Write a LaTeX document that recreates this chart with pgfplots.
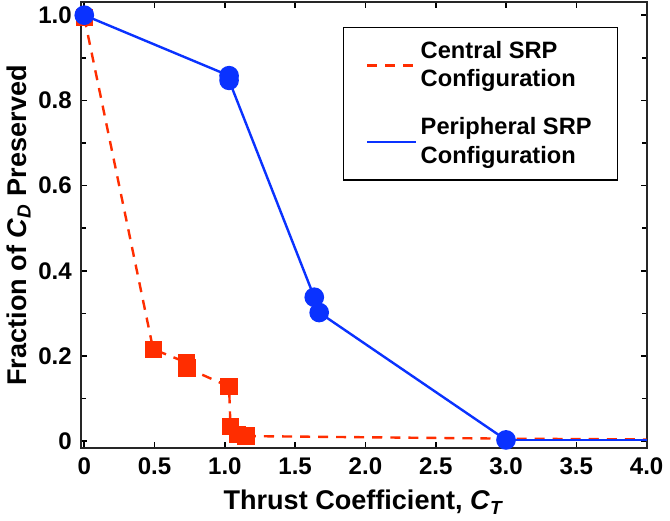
\documentclass[border=0pt]{standalone}
\usepackage{fontspec}
\setmainfont{Liberation Sans}
\usepackage{pgfplots}
\pgfplotsset{compat=1.18}
\definecolor{cred}{RGB}{255,45,0}
\definecolor{cblue}{RGB}{10,50,255}
\begin{document}
\begin{tikzpicture}
\begin{axis}[
  scale only axis,
  width=282.2pt, height=222.5pt,
  xmin=-0.024, xmax=4.0,
  ymin=-0.017, ymax=1.03,
  xtick={0,0.5,1,1.5,2,2.5,3,3.5,4},
  xticklabels={0,0.5,1.0,1.5,2.0,2.5,3.0,3.5,4.0},
  ytick={0,0.2,0.4,0.6,0.8,1.0},
  yticklabels={0,0.2,0.4,0.6,0.8,1.0},
  minor ytick={0.1,0.3,0.5,0.7,0.9},
  tick align=inside,
  major tick length=3pt,
  minor tick length=2.5pt,
  every tick/.style={black, line width=0.8pt},
  axis line style={line width=1pt, black!85},
  tick label style={font=\fontsize{12}{14}\selectfont\bfseries},
  xticklabel style={yshift=-1pt},
  yticklabel style={xshift=-1pt},
  /pgf/number format/assume math mode=true,
  xlabel={Thrust Coefficient, \textit{C}\textsubscript{\textit{T}}},
  ylabel={Fraction of \textit{C}\textsubscript{\textit{D}} Preserved},
  label style={font=\fontsize{13.5}{15}\selectfont\bfseries},
  xlabel style={yshift=-1pt},
  ylabel style={yshift=-3pt},
  legend style={at={(0.95,0.945)}, anchor=north east, draw=black, line width=0.6pt,
    font=\fontsize{11.8}{14}\selectfont\bfseries, cells={align=left, anchor=west},
    inner xsep=11pt, inner ysep=5pt, row sep=10pt},
  legend image code/.code={\draw[#1, mark=none] (0cm,0cm) -- (0.85cm,0cm);},
  clip=false,
]
\addplot[cred, line width=1.2pt, dash pattern=on 5pt off 4pt, mark=square*, mark size=3.7pt, mark options={solid}]
  coordinates {(0,0.995) (0.49,0.216) (0.725,0.185) (0.73,0.172) (1.03,0.128) (1.04,0.034) (1.09,0.016) (1.15,0.012)};
\addlegendentry{Central SRP\\Configuration}
\addplot[cblue, line width=1.2pt, mark=*, mark size=4.3pt]
  coordinates {(0,1.0) (1.03,0.858) (1.03,0.847) (1.636,0.338) (1.671,0.302) (3.0,0.003)};
\addlegendentry{Peripheral SRP\\Configuration}
\addplot[cred, line width=1.2pt, dash pattern=on 5pt off 4pt, forget plot]
  coordinates {(1.15,0.012) (3.0,0.006) (4.0,0.004)};
\addplot[cblue, line width=1.2pt, forget plot] coordinates {(3.0,0.003) (4.0,0.003)};
\addplot[cblue, only marks, mark=*, mark size=4.3pt, forget plot] coordinates {(3.0,0.003)};
\end{axis}
\end{tikzpicture}
\end{document}
